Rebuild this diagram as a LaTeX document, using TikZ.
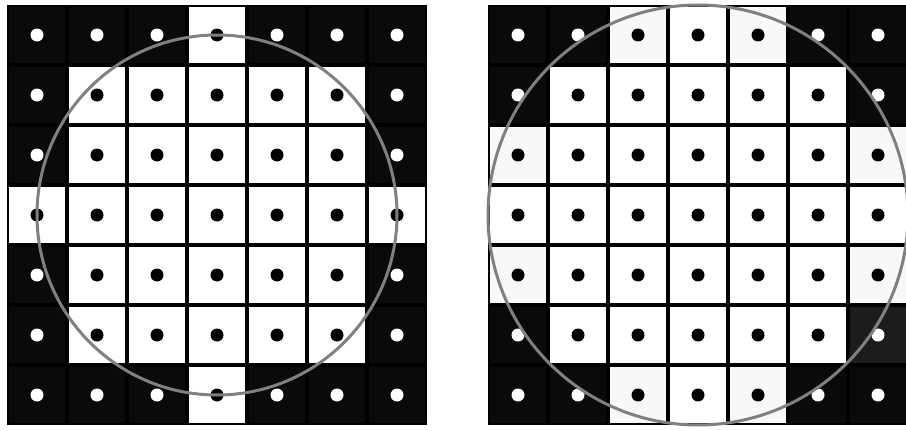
\documentclass[tikz,border=0pt]{standalone}
\definecolor{cb}{HTML}{0A0A0A}
\definecolor{cl}{HTML}{F8F8F8}
\definecolor{cd}{HTML}{1C1C1C}
\definecolor{ringgray}{HTML}{808080}
\tikzset{
  cellb/.style={fill=cb}, cellw/.style={fill=white}, celll/.style={fill=cl}, celld/.style={fill=cd},
  dotb/.style={fill=white}, dotw/.style={fill=black}, dotl/.style={fill=black}, dotd/.style={fill=white},
  ring/.style={draw=ringgray, line width=3pt}
}
\begin{document}
\begin{tikzpicture}[x=1pt,y=-1pt]
\useasboundingbox (0,0) rectangle (906,431);
\fill[white] (0,0) rectangle (906,431);
\begin{scope}
\clip (0,0) rectangle (906,431);
% left grid
\fill[black] (7,5) rectangle (427,425);
\foreach \r/\cols in {0/{b,b,b,w,b,b,b},1/{b,w,w,w,w,w,b},2/{b,w,w,w,w,w,b},3/{w,w,w,w,w,w,w},4/{b,w,w,w,w,w,b},5/{b,w,w,w,w,w,b},6/{b,b,b,w,b,b,b}}{
  \foreach \c [count=\i from 0] in \cols {
    \fill[cell\c] (7+\i*60+2, 5+\r*60+2) rectangle ++(56,56);
    \fill[dot\c] (7+\i*60+30, 5+\r*60+30) circle (6.5pt);
  }
}
\draw[ring] (217,215) circle (180pt);
% right grid
\fill[black] (488,5) rectangle (908,425);
\foreach \r/\cols in {0/{b,b,l,w,l,b,b},1/{b,w,w,w,w,w,b},2/{l,w,w,w,w,w,l},3/{w,w,w,w,w,w,w},4/{l,w,w,w,w,w,l},5/{b,w,w,w,w,w,d},6/{b,b,l,w,l,b,b}}{
  \foreach \c [count=\i from 0] in \cols {
    \fill[cell\c] (488+\i*60+2, 5+\r*60+2) rectangle ++(56,56);
    \fill[dot\c] (488+\i*60+30, 5+\r*60+30) circle (6.5pt);
  }
}
\draw[ring] (698,215) circle (210pt);
\end{scope}
\end{tikzpicture}
\end{document}
